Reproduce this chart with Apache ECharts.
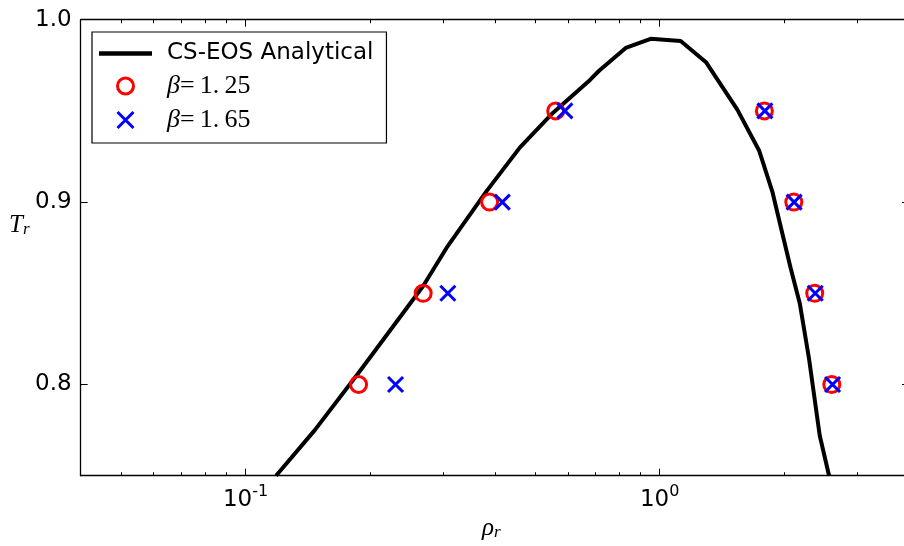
<!DOCTYPE html>
<html><head><meta charset="utf-8">
<script src="https://cdn.jsdelivr.net/npm/echarts@6/dist/echarts.min.js"></script>
<style>html,body{margin:0;padding:0;background:#fff;overflow:hidden}#c{width:904px;height:546px}</style>
</head><body><div id="c"></div>
<script>
// ---- data ----
const curveRho = [0.1185, 0.147, 0.187, 0.2685, 0.306, 0.382, 0.460, 0.553, 0.679, 0.714, 0.828, 0.951, 1.124, 1.296, 1.540, 1.738, 1.871, 1.978, 2.072, 2.179, 2.295, 2.435, 2.565];
const curveT   = [0.75, 0.775, 0.806, 0.854, 0.875, 0.906, 0.930, 0.949, 0.967, 0.972, 0.9845, 0.9895, 0.9883, 0.9765, 0.9507, 0.9283, 0.9058, 0.8828, 0.8637, 0.8446, 0.814, 0.772, 0.75];
const markerT      = [0.80, 0.85, 0.90, 0.95, 0.95, 0.90, 0.85, 0.80];
const beta125Rho   = [0.1875, 0.2685, 0.3886, 0.561, 1.790, 2.108, 2.368, 2.604];
const beta165Rho   = [0.2303, 0.308, 0.417, 0.5905, 1.795, 2.112, 2.375, 2.615];
const seriesNames  = ['CS-EOS Analytical', 'β=1.25', 'β=1.65'];
const xMajorTicks  = [0.1, 1];
const xMinorTicks  = [0.04, 0.05, 0.06, 0.07, 0.08, 0.09, 0.2, 0.3, 0.4, 0.5, 0.6, 0.7, 0.8, 0.9, 2, 3, 4];
const yTicks       = [0.8, 0.9, 1.0];

const crossPath = 'path://M0,0L10,10M10,0L0,10';
const chart = echarts.init(document.getElementById('c'), null, {renderer: 'canvas'});

function xAxisDef(pos, ticks, len, showLine, showLabel) {
  return {
    type: 'log', logBase: 10, min: 0.04, max: 4, position: pos,
    axisLine: {show: showLine, lineStyle: {color: '#000', width: 1.3}},
    axisTick: {show: true, inside: true, length: len, customValues: ticks, lineStyle: {color: '#000', width: 1}},
    axisLabel: showLabel ? {
      show: true, customValues: xMajorTicks, margin: 10,
      formatter: v => '{b|10}{s|' + Math.round(Math.log10(v)) + '}',
      rich: {
        b: {fontFamily: 'DejaVu Sans', fontSize: 23, color: '#000', lineHeight: 26, verticalAlign: 'bottom'},
        s: {fontFamily: 'DejaVu Sans', fontSize: 16, color: '#000', lineHeight: 16, padding: [0, 0, 12, 0], verticalAlign: 'bottom'}
      }
    } : {show: false},
    splitLine: {show: false}, minorTick: {show: false}
  };
}
function yAxisDef(pos, showLabel) {
  return {
    type: 'value', min: 0.75, max: 1.0, position: pos,
    axisLine: {show: true, lineStyle: {color: '#000', width: 1.3}},
    axisTick: {show: true, inside: true, length: 7, customValues: yTicks, lineStyle: {color: '#000', width: 1}},
    axisLabel: showLabel ? {show: true, customValues: yTicks, margin: 9, fontFamily: 'DejaVu Sans', fontSize: 23, color: '#000',
      formatter: v => v.toFixed(1)} : {show: false},
    splitLine: {show: false}
  };
}

const mathRich = {
  i: {fontFamily: 'Liberation Serif', fontStyle: 'italic', fontSize: 25, fill: '#000', lineHeight: 28, verticalAlign: 'bottom'},
  s: {fontFamily: 'Liberation Serif', fontStyle: 'italic', fontSize: 17, fill: '#000', lineHeight: 16, padding: [14, 0, 0, 0], verticalAlign: 'bottom'}
};

const option = {
  animation: false,
  backgroundColor: '#fff',
  grid: {left: 80.7, top: 19.7, width: 828.3, height: 456, outerBoundsMode: 'none', containLabel: false},
  xAxis: [
    xAxisDef('bottom', xMajorTicks, 7, true, true),
    xAxisDef('bottom', xMinorTicks, 3.5, false, false),
    xAxisDef('top', xMajorTicks, 7, true, false),
    xAxisDef('top', xMinorTicks, 3.5, false, false)
  ],
  yAxis: [yAxisDef('left', true), yAxisDef('right', false)],
  legend: {
    left: 92, top: 32, orient: 'vertical', selectedMode: false,
    itemWidth: 53, itemHeight: 16, itemGap: 8, padding: [10, 13, 10, 7],
    borderColor: '#000', borderWidth: 1.2, backgroundColor: '#fff',
    textStyle: {fontFamily: 'DejaVu Sans', fontSize: 23, color: '#000', lineHeight: 16, padding: [0, 0, 0, 10],
      rich: {
        i: {fontFamily: 'Liberation Serif', fontStyle: 'italic', fontSize: 26, color: '#000', lineHeight: 16},
        n: {fontFamily: 'Liberation Serif', fontSize: 26, color: '#000', lineHeight: 16}
      }},
    formatter: name => name.charAt(0) === 'β' ? '{i|β}{n|=\u20091.\u2009' + name.slice(4) + '}' : name,
    data: [
      {name: seriesNames[0], icon: 'path://M0,0H53V4.5H0Z', itemStyle: {borderWidth: 0}},
      {name: seriesNames[1], icon: 'circle', itemStyle: {borderWidth: 3}},
      {name: seriesNames[2], icon: crossPath, itemStyle: {borderWidth: 3}}
    ]
  },
  graphic: [
    {type: 'text', left: 9, top: 207, style: {text: '{i|T}{s|r}', rich: mathRich}},
    {type: 'text', left: 482, top: 510, style: {text: '{i|ρ}{s|r}', rich: mathRich}}
  ],
  series: [
    {name: seriesNames[0], type: 'line', xAxisIndex: 0, yAxisIndex: 0, color: '#000',
      data: curveRho.map((r, i) => [r, curveT[i]]), showSymbol: false, symbol: 'none',
      lineStyle: {color: '#000', width: 4}, itemStyle: {color: '#000'}, emphasis: {disabled: true}, z: 2},
    {name: seriesNames[1], type: 'scatter', xAxisIndex: 0, yAxisIndex: 0,
      data: beta125Rho.map((r, i) => [r, markerT[i]]), symbol: 'circle', symbolSize: 16,
      itemStyle: {color: 'none', borderColor: '#ff0000', borderWidth: 3, opacity: 1}, emphasis: {disabled: true}, z: 3},
    {name: seriesNames[2], type: 'scatter', xAxisIndex: 0, yAxisIndex: 0,
      data: beta165Rho.map((r, i) => [r, markerT[i]]), symbol: crossPath, symbolSize: 15,
      itemStyle: {color: 'none', borderColor: '#0000ff', borderWidth: 3, opacity: 1}, emphasis: {disabled: true}, z: 4}
  ]
};
chart.setOption(option);
</script></body></html>
